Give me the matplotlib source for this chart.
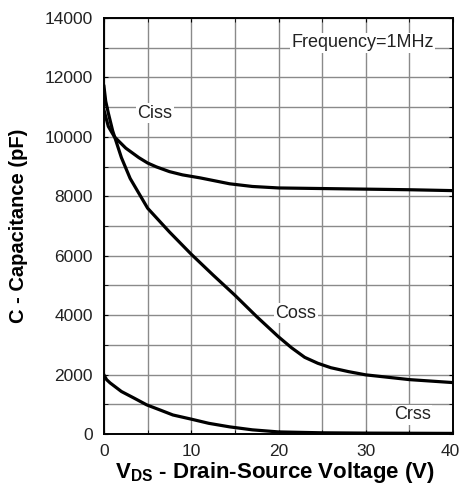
import matplotlib
matplotlib.use("Agg")
import matplotlib.pyplot as plt
import matplotlib.transforms as mtransforms
import numpy as np

# Data
ciss_v = [0, 0.5, 1.2, 2.5, 4, 5, 6, 7.5, 9, 11, 14.4, 17, 20, 25, 30, 35, 40]
ciss_c = [10900, 10350, 10000, 9620, 9300, 9120, 8990, 8830, 8720, 8620, 8420, 8330, 8280, 8260, 8240, 8220, 8190]

coss_v = [0, 0.2, 0.5, 1, 2, 3, 5, 7.5, 10, 12.5, 15, 17.5, 20, 21.5, 23, 24.5, 26, 28, 30, 35, 40]
coss_c = [11700, 11200, 10800, 10200, 9300, 8600, 7600, 6800, 6050, 5350, 4670, 3950, 3270, 2900, 2580, 2380, 2230, 2100, 1990, 1830, 1730]

crss_v = [0, 0.3, 0.7, 2, 3.5, 4.9, 6.5, 7.9, 10, 12, 14.4, 17, 20, 25, 30, 35, 40]
crss_c = [1990, 1830, 1720, 1430, 1200, 980, 800, 640, 500, 360, 240, 140, 70, 40, 30, 25, 20]

x_ticks = [0, 10, 20, 30, 40]
y_ticks = [0, 2000, 4000, 6000, 8000, 10000, 12000, 14000]

plt.rcParams['font.family'] = ['Liberation Sans', 'DejaVu Sans']

fig = plt.figure(figsize=(4.6, 4.86), dpi=100)
ax = fig.add_axes([0.226, 0.107, 0.759, 0.856])

ax.set_xlim(0, 40)
ax.set_ylim(0, 14000)
ax.set_xticks(np.arange(0, 41, 5), minor=True)
ax.set_yticks(np.arange(0, 14001, 1000), minor=True)
ax.set_xticks(x_ticks)
ax.set_yticks(y_ticks)
ax.grid(True, which='both', color='#8a8a8a', linewidth=1.0)
ax.set_axisbelow(True)

ax.tick_params(which='both', direction='in', length=3, color='black', top=True, right=True,
               labelsize=12.5, labelcolor='#222222')
ax.tick_params(axis='x', pad=7)
ax.tick_params(axis='y', pad=8)

# keep the last x tick label ("40") inside the figure edge
last = ax.get_xticklabels()[-1]
last.set_transform(last.get_transform() + mtransforms.ScaledTranslation(-3 / 100, 0, fig.dpi_scale_trans))

for s in ax.spines.values():
    s.set_linewidth(1.4)
    s.set_color('black')

lw = 2.3
ax.plot(ciss_v, ciss_c, color='black', linewidth=lw, zorder=3, solid_joinstyle='round')
ax.plot(coss_v, coss_c, color='black', linewidth=lw, zorder=3, solid_joinstyle='round')
ax.plot(crss_v, crss_c, color='black', linewidth=lw, zorder=3, solid_joinstyle='round')

bbox = dict(facecolor='white', edgecolor='none', pad=1)
fs = 13
ax.text(5.8, 10800, 'Ciss', fontsize=fs, color='#222222', ha='center', va='center', bbox=bbox, zorder=4)
ax.text(22.0, 4070, 'Coss', fontsize=fs, color='#222222', ha='center', va='center', bbox=bbox, zorder=4)
ax.text(35.3, 640, 'Crss', fontsize=fs, color='#222222', ha='center', va='center', bbox=bbox, zorder=4)
ax.text(29.6, 13170, 'Frequency=1MHz', fontsize=fs, color='#222222', ha='center', va='center', bbox=bbox, zorder=4)

ax.set_xlabel(r'V$_{\mathregular{DS}}$ - Drain-Source Voltage (V)', fontsize=16, fontweight='bold')
ax.set_ylabel('C - Capacitance (pF)', fontsize=14.5, fontweight='bold')
ax.xaxis.set_label_coords(0.49, -0.062)
ax.yaxis.set_label_coords(-0.245, 0.5)
ax.yaxis.label.set_va('center')

fig.savefig('out.png', dpi=100)
